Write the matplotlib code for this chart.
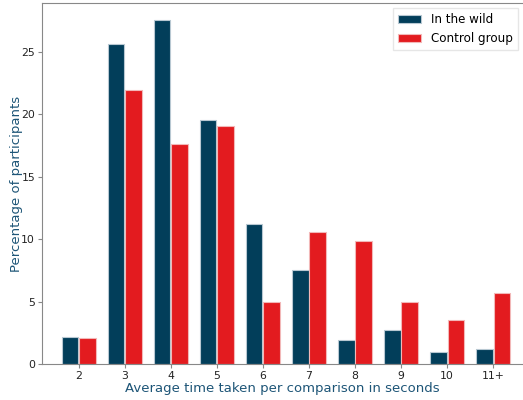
import numpy as np
from matplotlib import pyplot as plt

categories = ["2", "3", "4", "5", "6", "7", "8", "9", "10", "11+"]
in_the_wild = [2.16, 25.6, 27.5, 19.5, 11.2, 7.5, 1.9, 2.7, 0.96, 1.2]
control_group = [2.1, 21.9, 17.65, 19.05, 4.93, 10.6, 9.86, 4.93, 3.52, 5.65]

blue = "#023e5a"
red = "#e31b1f"
label_color = "#1d5577"

fig = plt.figure(figsize=(5.23, 4.0), dpi=100)
ax = fig.add_axes([42 / 523, 36 / 400, 481 / 523, 361 / 400])

x = np.arange(len(categories))
w = 0.36
ax.bar(x - 0.19, in_the_wild, w, color=blue, edgecolor="#b8c8d2", linewidth=0.8, label="In the wild")
ax.bar(x + 0.19, control_group, w, color=red, edgecolor="#f2b8b8", linewidth=0.8, label="Control group")

ax.set_xlim(-0.8, 9.65)
ax.set_ylim(0, 28.9)
ax.set_xticks(x)
ax.set_xticklabels(categories)
ax.set_yticks([0, 5, 10, 15, 20, 25])
ax.tick_params(labelsize=7.8, colors="#888888", labelcolor="#222222", length=3, pad=2)

for s in ["left", "bottom", "top"]:
    ax.spines[s].set_color("#888888")
ax.spines["right"].set_visible(False)

ax.set_xlabel("Average time taken per comparison in seconds", fontsize=9.5, color=label_color, labelpad=0.5)
ax.set_ylabel("Percentage of participants", fontsize=9.5, color=label_color, labelpad=-1)

ax.legend(loc="upper right", fontsize=8.6, frameon=True, fancybox=False, edgecolor="#e0e0e0",
          handlelength=2, borderaxespad=0.45)

plt.savefig("out.png", dpi=100)
